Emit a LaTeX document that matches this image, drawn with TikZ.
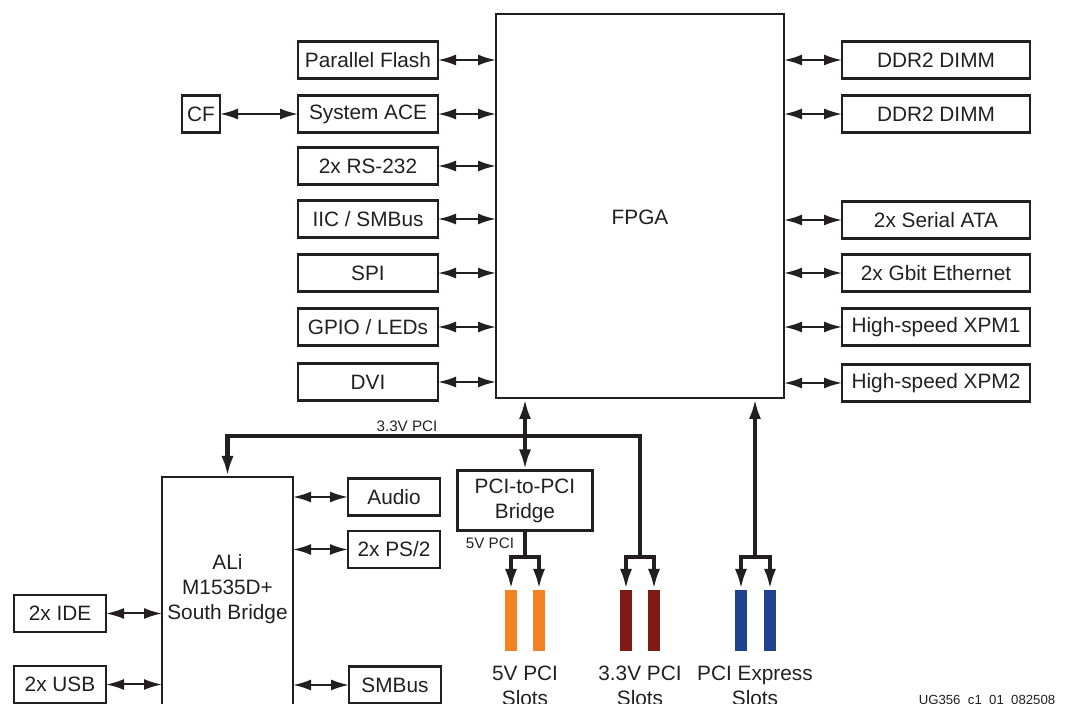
\documentclass[tikz,border=0pt]{standalone}
\usepackage{fontspec}
\setmainfont{Liberation Sans}
\usetikzlibrary{arrows.meta,positioning,calc}

\definecolor{slotorange}{HTML}{F58220}
\definecolor{slotred}{HTML}{7F1A15}
\definecolor{slotblue}{HTML}{21428F}
\definecolor{ink}{HTML}{231F20}

\begin{document}
\begin{tikzpicture}[
    x=0.5pt, y=-0.5pt,
    font=\fontsize{10.4}{12.5}\selectfont,
    color=ink,
    blk/.style={draw=ink, line width=1.1pt, inner sep=0pt, outer sep=0pt, minimum height=18.5pt, align=center},
    lbox/.style={blk, minimum width=70pt},
    rbox/.style={blk, minimum width=94pt},
    sbox/.style={blk, minimum width=46pt},
    link/.style={line width=1pt, {Latex[length=9pt,width=5.5pt]}-{Latex[length=9pt,width=5.5pt]}},
    bus/.style={line width=2.2pt, line join=miter},
    bustip/.style={-{Latex[length=10.5pt,width=6pt]}},
    slotbar/.style={draw=none, minimum width=6pt, minimum height=30.5pt, inner sep=0pt, outer sep=0pt},
    small/.style={font=\fontsize{7.6}{9}\selectfont, inner sep=0pt},
    caption/.style={anchor=north, align=center, inner sep=0pt}
]
    \clip (0,0) rectangle (1065,704);

    % FPGA
    \node[blk, minimum width=144pt, minimum height=192pt, line width=1.3pt] (fpga) at (640,206) {};
    \node (fpgatxt) at (640,217) {FPGA};

    % Left column
    \node[lbox] (pflash) at (368,60) {Parallel Flash};
    \node[lbox] (sace) at (368,114) {System ACE};
    \node[lbox] (rs232) at (368,166) {2x RS-232};
    \node[lbox] (iic) at (368,219) {IIC / SMBus};
    \node[lbox] (spi) at (368,273) {SPI};
    \node[lbox] (gpio) at (368,327) {GPIO / LEDs};
    \node[lbox] (dvi) at (368,382) {DVI};
    \node[blk, minimum width=19pt] (cf) at (201,114) {CF};

    % Right column
    \node[rbox] (ddra) at (936,60) {DDR2 DIMM};
    \node[rbox] (ddrb) at (936,114) {DDR2 DIMM};
    \node[rbox] (sata) at (936,220) {2x Serial ATA};
    \node[rbox] (gbe) at (936,273) {2x Gbit Ethernet};
    \node[rbox] (xpma) at (936,327) {High-speed XPM1};
    \node[rbox] (xpmb) at (936,383) {High-speed XPM2};

    \draw[link] (pflash.east) -- (pflash.east -| fpga.west);
    \draw[link] (sace.east) -- (sace.east -| fpga.west);
    \draw[link] (rs232.east) -- (rs232.east -| fpga.west);
    \draw[link] (iic.east) -- (iic.east -| fpga.west);
    \draw[link] (spi.east) -- (spi.east -| fpga.west);
    \draw[link] (gpio.east) -- (gpio.east -| fpga.west);
    \draw[link] (dvi.east) -- (dvi.east -| fpga.west);
    \draw[link] (cf.east) -- (sace.west);

    \draw[link] (ddra.west) -- (ddra.west -| fpga.east);
    \draw[link] (ddrb.west) -- (ddrb.west -| fpga.east);
    \draw[link] (sata.west) -- (sata.west -| fpga.east);
    \draw[link] (gbe.west) -- (gbe.west -| fpga.east);
    \draw[link] (xpma.west) -- (xpma.west -| fpga.east);
    \draw[link] (xpmb.west) -- (xpmb.west -| fpga.east);

    % South bridge and its peripherals
    \node[blk, minimum width=65.5pt, minimum height=121.5pt] (sb) at (227.5,598.5) {};
    \node[align=center] (sbtxt) at (227.5,589) {ALi\\M1535D+\\South Bridge};
    \node[sbox] (audio) at (394,497) {Audio};
    \node[sbox] (ps2) at (394,549.5) {2x PS/2};
    \node[sbox] (smbus) at (395,685) {SMBus};
    \node[sbox] (ide) at (60,613.5) {2x IDE};
    \node[sbox] (usb) at (60,684.5) {2x USB};

    \draw[link] (audio.west) -- (audio.west -| sb.east);
    \draw[link] (ps2.west) -- (ps2.west -| sb.east);
    \draw[link] (smbus.west) -- (smbus.west -| sb.east);
    \draw[link] (ide.east) -- (ide.east -| sb.west);
    \draw[link] (usb.east) -- (usb.east -| sb.west);

    % PCI bridge and slots
    \node[blk, minimum width=67.5pt, minimum height=30pt] (bridge) at (525,500.5) {PCI-to-PCI\\Bridge};

    \node[slotbar, fill=slotorange] (s5a) at (511,620.5) {};
    \node[slotbar, fill=slotorange] (s5b) at (539,620.5) {};
    \node[slotbar, fill=slotred] (s33a) at (626,620.5) {};
    \node[slotbar, fill=slotred] (s33b) at (654,620.5) {};
    \node[slotbar, fill=slotblue] (sxa) at (741,620.5) {};
    \node[slotbar, fill=slotblue] (sxb) at (770,620.5) {};

    \coordinate (split5) at (525,557);
    \coordinate (split33) at (640,557);
    \coordinate (splitx) at (755,557);
    \coordinate (bus33) at (640,436);

    % 3.3V PCI bus
    \draw[bus,bustip] (split33) -- (bus33) -| (sb.north);
    \draw[bus,bustip] (split33) -| (s33a.north);
    \draw[bus,bustip] (split33) -| (s33b.north);
    \draw[bus, {Latex[length=10.5pt,width=6pt]}-{Latex[length=10.5pt,width=6pt]}] (bridge.north) -- (bridge.north |- fpga.south);

    % 5V PCI
    \draw[bus] (bridge.south) -- (split5);
    \draw[bus,bustip] (split5) -| (s5a.north);
    \draw[bus,bustip] (split5) -| (s5b.north);

    % PCI Express
    \draw[bus, {Latex[length=10.5pt,width=6pt]}-] (fpga.south -| splitx) -- (splitx);
    \draw[bus,bustip] (splitx) -| (sxa.north);
    \draw[bus,bustip] (splitx) -| (sxb.north);

    \node[small] (lbl33) at (407,426) {3.3V PCI};
    \node[small] (lbl5) at (490,543) {5V PCI};

    \node[caption] (cap5) at (525,666) {5V PCI\\Slots};
    \node[caption] (cap33) at (640,666) {3.3V PCI\\Slots};
    \node[caption] (capx) at (755,666) {PCI Express\\Slots};

    \node[font=\fontsize{6.6}{8}\selectfont, anchor=north, inner sep=0pt] (docid) at (987,695) {UG356\_c1\_01\_082508};
\end{tikzpicture}
\end{document}
